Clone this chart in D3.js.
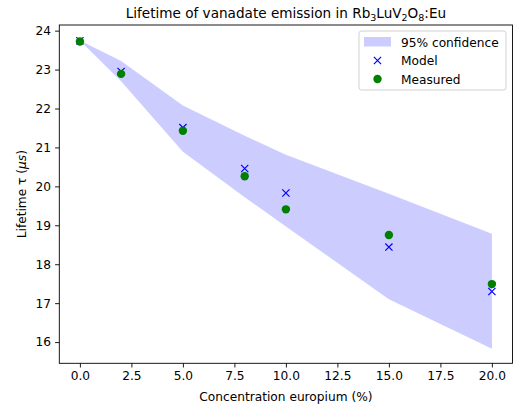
<!DOCTYPE html>
<html>
<head>
<meta charset="utf-8">
<script src="https://cdn.jsdelivr.net/npm/d3@7"></script>
<style>
  body { margin: 0; background: #fff; }
  svg { font-family: "DejaVu Sans", sans-serif; }
</style>
</head>
<body>
<div id="chart"></div>
<script>
// concentrations (%)
const conc = [0, 2, 5, 8, 10, 15, 20];
const measured = [23.72, 22.89, 21.43, 20.26, 19.41, 18.75, 17.49];
const model = [23.74, 22.95, 21.51, 20.46, 19.83, 18.44, 17.30];
const bandUpper = [23.75, 23.22, 22.08, 21.30, 20.81, 19.81, 18.78];
const bandLower = [23.75, 22.70, 20.89, 19.72, 18.97, 17.10, 15.83];
const xTicks = [0, 2.5, 5, 7.5, 10, 12.5, 15, 17.5, 20];
const yTicks = [16, 17, 18, 19, 20, 21, 22, 23, 24];

const width = 513, height = 406;
const margin = {top: 25, right: 0.5, bottom: 42.7, left: 59.3};
const fs = 12.2;

const svg = d3.select("#chart").append("svg")
    .attr("width", width)
    .attr("height", height);

const x = d3.scaleLinear().domain([-1, 21])
    .range([margin.left, width - margin.right]);
const y = d3.scaleLinear().domain([15.455, 24.145])
    .range([height - margin.bottom, margin.top]);

// confidence band
const area = d3.area()
    .x((d, i) => x(conc[i]))
    .y0((d, i) => y(bandLower[i]))
    .y1((d, i) => y(bandUpper[i]));
svg.append("path")
    .datum(conc)
    .attr("d", area)
    .attr("fill", "blue")
    .attr("fill-opacity", 0.2);

// model crosses
const cross = (cx, cy, s) => `M${cx - s},${cy - s}L${cx + s},${cy + s}M${cx - s},${cy + s}L${cx + s},${cy - s}`;
svg.append("g").selectAll("path")
    .data(conc)
    .enter().append("path")
    .attr("d", (d, i) => cross(x(d), y(model[i]), 3.6))
    .attr("stroke", "blue")
    .attr("stroke-width", 1.2)
    .attr("fill", "none");

// measured dots
svg.append("g").selectAll("circle")
    .data(conc)
    .enter().append("circle")
    .attr("cx", d => x(d))
    .attr("cy", (d, i) => y(measured[i]))
    .attr("r", 4.2)
    .attr("fill", "green");

// axes
const xAxis = d3.axisBottom(x).tickValues(xTicks).tickFormat(d3.format(".1f")).tickSize(4.2).tickPadding(4);
const yAxis = d3.axisLeft(y).tickValues(yTicks).tickFormat(d3.format("d")).tickSize(4.2).tickPadding(4);

const gx = svg.append("g")
    .attr("transform", `translate(0,${height - margin.bottom})`)
    .call(xAxis);
const gy = svg.append("g")
    .attr("transform", `translate(${margin.left},0)`)
    .call(yAxis);
[gx, gy].forEach(g => {
    g.selectAll("text").attr("font-size", fs).attr("fill", "#000").attr("font-family", "DejaVu Sans");
    g.selectAll("line").attr("stroke", "#000").attr("stroke-width", 0.9);
    g.select(".domain").remove();
});

// spines
svg.append("rect")
    .attr("x", margin.left)
    .attr("y", margin.top)
    .attr("width", width - margin.right - margin.left)
    .attr("height", height - margin.bottom - margin.top)
    .attr("fill", "none")
    .attr("stroke", "#000")
    .attr("stroke-width", 0.9);

const cx = (margin.left + width - margin.right) / 2;

// title with subscripts
const title = svg.append("text")
    .attr("x", cx)
    .attr("y", 17.5)
    .attr("text-anchor", "middle")
    .attr("font-size", 13.6);
title.append("tspan").text("Lifetime of vanadate emission in Rb");
title.append("tspan").text("3").attr("font-size", 9.5).attr("dy", 3);
title.append("tspan").text("LuV").attr("dy", -3);
title.append("tspan").text("2").attr("font-size", 9.5).attr("dy", 3);
title.append("tspan").text("O").attr("dy", -3);
title.append("tspan").text("8").attr("font-size", 9.5).attr("dy", 3);
title.append("tspan").text(":Eu").attr("dy", -3);

svg.append("text")
    .attr("x", cx)
    .attr("y", 401)
    .attr("text-anchor", "middle")
    .attr("font-size", fs)
    .text("Concentration europium (%)");

const yl = svg.append("text")
    .attr("transform", `translate(26,${(margin.top + height - margin.bottom) / 2}) rotate(-90)`)
    .attr("text-anchor", "middle")
    .attr("font-size", fs);
yl.append("tspan").text("Lifetime τ (");
yl.append("tspan").text("μs").attr("font-style", "italic");
yl.append("tspan").text(")");

// legend
const leg = svg.append("g").attr("transform", "translate(359,31)");
leg.append("rect")
    .attr("width", 147).attr("height", 59)
    .attr("rx", 2.5)
    .attr("fill", "#fff").attr("fill-opacity", 0.8)
    .attr("stroke", "#ccc").attr("stroke-width", 0.9);
leg.append("rect")
    .attr("x", 5).attr("y", 6).attr("width", 27).attr("height", 9.5)
    .attr("fill", "blue").attr("fill-opacity", 0.2);
leg.append("path")
    .attr("d", cross(18.5, 29.5, 3.6))
    .attr("stroke", "blue").attr("stroke-width", 1.2);
leg.append("circle")
    .attr("cx", 18.5).attr("cy", 48).attr("r", 4.2).attr("fill", "green");
const labels = ["95% confidence", "Model", "Measured"];
leg.selectAll("text.l")
    .data(labels)
    .enter().append("text")
    .attr("class", "l")
    .attr("x", 42)
    .attr("y", (d, i) => 15.5 + i * 18.5)
    .attr("font-size", fs)
    .text(d => d);
</script>
</body>
</html>
